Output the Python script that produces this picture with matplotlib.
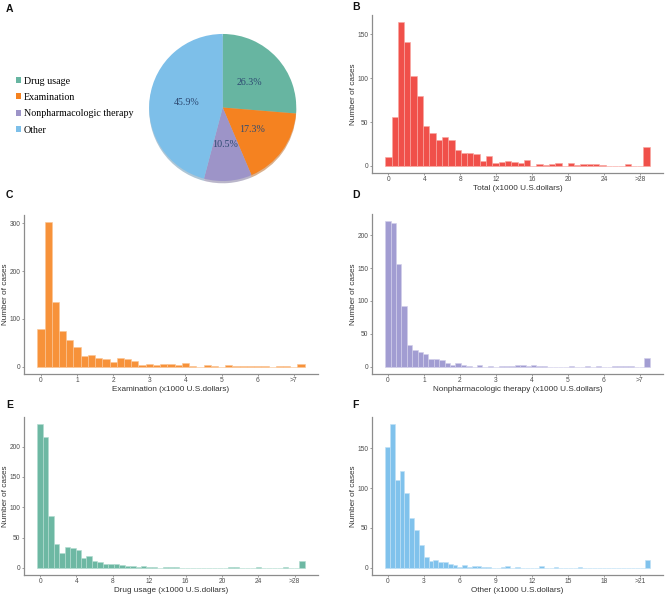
import numpy as np
import matplotlib
matplotlib.use("Agg")
import matplotlib.pyplot as plt
from matplotlib.patches import Patch

# ---------------- data ----------------
pie_labels = ["Drug usage", "Examination", "Nonpharmacologic therapy", "Other"]
pie_values = [26.3, 17.3, 10.5, 45.9]
pie_colors = ["#67B5A1", "#F58220", "#9D94C8", "#7DBFE9"]

total_width = 0.7
total_counts = [10, 56, 164, 141, 103, 80, 46, 38, 29, 33, 29, 18, 15, 15, 14,
                6, 11, 3, 4, 6, 4, 3, 7, 0, 2, 1, 2, 3, 0, 3, 1, 2, 2, 2, 1,
                0, 0, 0, 2, 0, 0, 22]
total_xticks = [0, 4, 8, 12, 16, 20, 24, 28]
total_xlabels = ["0", "4", "8", "12", "16", "20", "24", ">28"]
total_yticks = [0, 50, 100, 150]

exam_width = 0.2
exam_counts = [78, 302, 135, 75, 55, 41, 22, 24, 19, 17, 11, 18, 17, 12, 4,
               6, 3, 6, 6, 4, 8, 1, 0, 3, 2, 0, 3, 1, 1, 1, 2, 1, 0, 1, 2, 0, 6]
exam_xticks = [0, 1, 2, 3, 4, 5, 6, 7]
exam_xlabels = ["0", "1", "2", "3", "4", "5", "6", ">7"]
exam_yticks = [0, 100, 200, 300]

nonph_width = 0.15
nonph_counts = [221, 218, 156, 93, 33, 25, 23, 20, 12, 11, 10, 5, 2, 6, 2,
                1, 0, 3, 0, 1, 0, 1, 1, 1, 2, 2, 1, 2, 1, 1, 0, 0, 0, 0, 1,
                0, 0, 1, 0, 1, 0, 0, 1, 1, 1, 1, 0, 0, 13]
nonph_xticks = [0, 1, 2, 3, 4, 5, 6, 7]
nonph_xlabels = ["0", "1", "2", "3", "4", "5", "6", ">7"]
nonph_yticks = [0, 50, 100, 150, 200]

drug_width = 0.6
drug_counts = [237, 216, 85, 40, 25, 34, 32, 29, 16, 19, 12, 9, 7, 6, 7,
               4, 3, 3, 1, 3, 1, 1, 0, 2, 1, 1, 0, 0, 0, 0, 0, 0, 0, 0, 0,
               1, 1, 0, 0, 0, 2, 0, 0, 0, 0, 1, 0, 0, 12]
drug_xticks = [0, 4, 8, 12, 16, 20, 24, 28]
drug_xlabels = ["0", "4", "8", "12", "16", "20", "24", ">28"]
drug_yticks = [0, 50, 100, 150, 200]

other_width = 0.4
other_counts = [151, 180, 110, 121, 94, 63, 48, 28, 14, 9, 10, 7, 7, 5, 3,
                1, 3, 1, 2, 2, 1, 1, 0, 0, 1, 2, 0, 1, 0, 0, 0, 0, 2, 0, 0,
                1, 0, 0, 0, 0, 1, 0, 0, 0, 0, 0, 0, 0, 0, 0, 0, 0, 0, 0, 10]
other_xticks = [0, 3, 6, 9, 12, 15, 18, 21]
other_xlabels = ["0", "3", "6", "9", "12", "15", "18", ">21"]
other_yticks = [0, 50, 100, 150]

# ---------------- figure ----------------
W, H = 669, 595
fig = plt.figure(figsize=(W / 100, H / 100), dpi=100)
plt.rcParams["font.family"] = ["Liberation Sans", "DejaVu Sans"]


def px_axes(left, top, right, bottom):
    return fig.add_axes([left / W, 1 - bottom / H, (right - left) / W, (bottom - top) / H])


# ---- Panel A : pie ----
cx, cy, r = 222.7, 107.5, 75
axp = px_axes(cx - r, cy - r, cx + r, cy + r)
wedges, texts, autotexts = axp.pie(
    pie_values, colors=pie_colors, startangle=90, counterclock=False,
    autopct="%1.1f%%", pctdistance=0.5,
    shadow={"ox": 0.0, "oy": -0.022, "shade": 0.25},
    wedgeprops={"linewidth": 0},
    textprops={"family": "Liberation Serif", "fontsize": 7.2, "color": "#2E4A72"})
axp.set_xlim(-1.02, 1.02)
axp.set_ylim(-1.02, 1.02)
axp.set_aspect("equal")

handles = [Patch(facecolor=c, edgecolor="none") for c in pie_colors]
fig.legend(handles, pie_labels, loc="upper left", bbox_to_anchor=(15.5 / W, 1 - 76.5 / H),
           frameon=False, prop={"family": "Liberation Serif", "size": 7.2},
           handlelength=0.55, handleheight=0.55, handletextpad=0.3,
           labelspacing=0.74, borderpad=0, borderaxespad=0)


def hist_panel(box, counts, width, color, edge, xticks, xlabels, yticks, xlabel, ylab_x):
    ax = px_axes(*box)
    counts = np.asarray(counts)
    centers = np.arange(len(counts)) * width
    ax.bar(centers, counts, width=width, color=color, edgecolor=edge,
           linewidth=0.45, align="center")
    lo, hi = centers[0] - width / 2, centers[-1] + width / 2
    pad = 0.05 * (hi - lo)
    ax.set_xlim(lo - pad, hi + pad)
    ymax = counts.max()
    ax.set_ylim(-0.05 * ymax, 1.05 * ymax)
    ax.set_xticks(xticks)
    ax.set_xticklabels(xlabels)
    ax.set_yticks(yticks)
    for s in ["top", "right"]:
        ax.spines[s].set_visible(False)
    for s in ["left", "bottom"]:
        ax.spines[s].set_color("#8C8C8C")
        ax.spines[s].set_linewidth(0.9)
    ax.tick_params(length=1.5, width=0.6, color="#8C8C8C", labelsize=4.8,
                   labelcolor="#4D4D4D", pad=1.0)
    ax.set_xlabel(xlabel, fontsize=5.9, color="#333333", labelpad=1.0)
    ax.set_ylabel("Number of cases", fontsize=5.9, color="#333333", va="center")
    left, right = box[0], box[2]
    ax.yaxis.set_label_coords((ylab_x - left) / (right - left), 0.5)
    return ax


hist_panel((372, 15, 663, 173), total_counts, total_width, "#F0504A", "#F8A7A2",
           total_xticks, total_xlabels, total_yticks, "Total (x1000 U.S.dollars)", 353.5)
hist_panel((24, 215, 318, 374), exam_counts, exam_width, "#F7923A", "#FBC697",
           exam_xticks, exam_xlabels, exam_yticks, "Examination (x1000 U.S.dollars)", 5.5)
hist_panel((372, 214, 663, 374), nonph_counts, nonph_width, "#A29DD2", "#D2CFEA",
           nonph_xticks, nonph_xlabels, nonph_yticks,
           "Nonpharmacologic therapy (x1000 U.S.dollars)", 353.5)
hist_panel((24, 417, 318, 575), drug_counts, drug_width, "#6DB8A3", "#B3DCD0",
           drug_xticks, drug_xlabels, drug_yticks, "Drug usage (x1000 U.S.dollars)", 5.5)
hist_panel((372, 417, 663, 575), other_counts, other_width, "#80C2EC", "#BFE0F5",
           other_xticks, other_xlabels, other_yticks, "Other (x1000 U.S.dollars)", 353.5)

# panel letters
for letter, x, y in [("A", 6, 8.5), ("B", 352.5, 7.5), ("C", 6, 195.5),
                     ("D", 352.5, 195.5), ("E", 6, 405.5), ("F", 352.5, 405.5)]:
    fig.text(x / W, 1 - y / H, letter, fontsize=7.5, fontweight="bold",
             ha="left", va="center", color="#111111")

fig.savefig("out.png", dpi=100)
